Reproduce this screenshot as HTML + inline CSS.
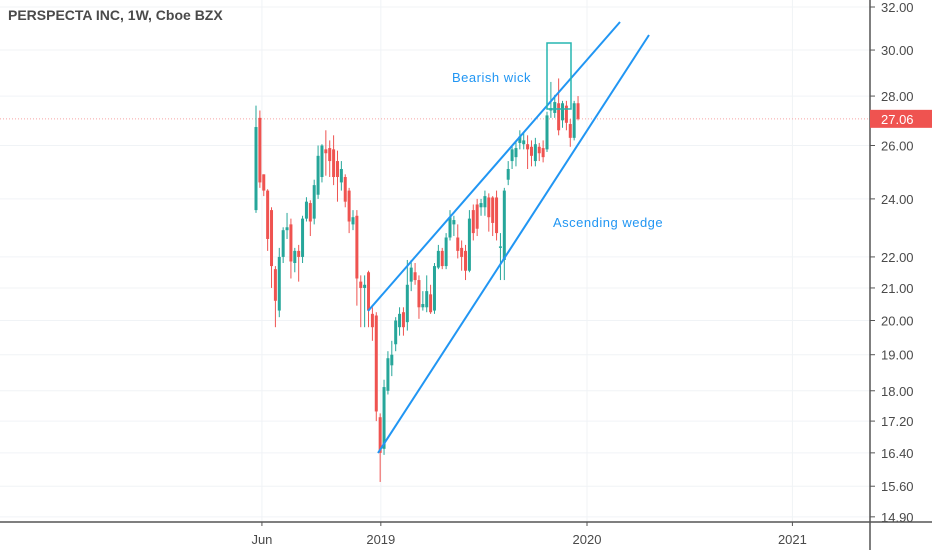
<!DOCTYPE html>
<html><head><meta charset="utf-8">
<style>
html,body{margin:0;padding:0;background:#fff;}
svg{display:block;font-family:"Liberation Sans",sans-serif;}
</style></head>
<body>
<svg id="chart" width="932" height="550" viewBox="0 0 932 550" xmlns="http://www.w3.org/2000/svg">
<rect x="0" y="0" width="932" height="550" fill="#ffffff"/>
<g id="grid"></g>
<g id="candles"></g>
<g id="draw"></g>
<g id="axes"></g>
<text x="8" y="20" font-size="14" font-weight="bold" fill="#4a4a4a">PERSPECTA INC, 1W, Cboe BZX</text>
</svg>
<script>
const opens  = [23.6,27.1,24.9,24.3,23.6,21.6,20.3,22.0,22.9,23.1,21.8,22.2,22.0,23.3,23.85,23.3,24.15,24.8,25.85,25.9,25.85,25.4,24.6,24.8,24.3,23.1,23.4,21.2,21.0,21.5,20.2,20.15,17.3,16.5,18.0,18.7,19.3,19.8,20.25,19.95,21.2,21.5,21.25,20.4,20.4,20.8,20.3,21.65,22.2,21.7,22.65,23.1,22.65,22.3,22.2,21.55,23.6,23.8,23.7,23.7,24.05,24.05,24.05,22.3,21.9,24.7,25.4,25.55,26.1,26.05,26.05,25.95,25.4,25.95,25.9,25.85,27.4,27.3,27.7,27.0,27.6,26.85,26.3,27.7];
const highs  = [27.6,27.4,24.9,24.35,23.7,21.7,22.3,23.0,23.5,23.3,22.3,22.4,23.4,24.06,23.95,24.7,26.0,26.05,26.6,26.2,26.4,25.8,25.4,24.9,24.4,23.6,23.6,21.4,21.4,21.55,20.4,20.25,17.4,18.3,19.1,19.4,20.1,20.4,20.4,21.9,21.9,21.8,21.4,20.9,21.4,21.1,21.8,22.4,22.3,22.8,23.6,23.4,23.1,22.55,22.4,23.6,23.8,24.0,24.0,24.3,24.2,24.1,24.3,22.8,24.4,25.4,26.0,26.2,26.6,26.5,26.4,26.2,26.3,26.1,26.2,27.35,28.6,28.05,28.75,27.8,27.8,27.05,27.8,28.0];
const lows   = [23.5,24.4,24.1,22.2,21.0,19.8,20.1,21.8,22.6,21.3,21.5,21.2,21.8,23.2,22.7,23.1,24.0,24.6,24.85,24.8,24.5,23.9,24.3,23.7,22.8,22.9,20.45,19.8,19.8,19.8,19.4,17.2,15.7,16.35,17.9,18.4,19.1,19.55,19.55,19.7,20.9,21.1,20.05,20.3,20.25,20.2,20.2,21.6,21.6,21.6,22.55,22.7,21.95,21.55,21.25,21.5,22.55,22.7,23.4,23.4,22.85,22.7,22.55,21.25,21.25,24.5,25.1,25.2,25.85,25.85,25.1,25.2,25.2,25.4,25.35,25.75,27.1,27.1,26.4,26.7,26.6,25.95,26.2,27.0];
const closes = [26.73,24.6,24.3,22.6,21.7,20.6,22.0,22.9,23.0,21.85,22.2,22.0,23.3,23.9,23.2,24.5,25.6,26.0,25.7,25.4,24.8,24.8,25.1,23.9,23.2,23.35,21.3,21.0,21.1,20.3,19.8,17.45,16.4,18.1,18.9,19.0,20.0,20.2,19.8,21.1,21.65,21.25,20.4,20.5,20.9,20.25,21.7,22.2,21.7,22.65,23.35,23.25,22.2,22.0,21.55,23.3,22.8,22.95,23.85,24.1,23.35,23.15,22.8,22.35,24.3,25.1,25.85,25.9,26.35,26.2,25.85,25.6,26.05,25.7,25.55,27.2,27.5,27.75,26.6,27.7,26.9,26.3,27.7,27.06];
const yTicks = [32,30,28,26,24,22,21,20,19,18,17.2,16.4,15.6,14.9];
const xTickLabels = ["Jun","2019","2020","2021"];
const xTickWeeks = [1.5,31.6,83.8,135.8];
const lastPrice = 27.06;

const NS="http://www.w3.org/2000/svg";
function mk(tag,attrs,parent){const e=document.createElementNS(NS,tag);for(const k in attrs)e.setAttribute(k,attrs[k]);parent.appendChild(e);return e;}
const PW=870, PB=522;
function y(p){return 7+(Math.log(32)-Math.log(p))*667;}
function x(i){return 256+i*3.88;}
function xw(w){return 256+w*3.95;}

const grid=document.getElementById('grid'), axes=document.getElementById('axes'), cg=document.getElementById('candles'), dr=document.getElementById('draw');
yTicks.forEach(t=>{
  const l=mk('line',{x1:0,x2:PW,y1:y(t),y2:y(t),stroke:'#f0f3f6','stroke-width':1},grid);
  
  
  const tk=mk('line',{x1:PW,x2:PW+5,y1:y(t),y2:y(t),stroke:'#555','stroke-width':1},axes);
  
  
  const tx=mk('text',{x:PW+11,y:y(t)+5,'font-size':13,fill:'#4a4a4a'},axes);
  tx.textContent=t.toFixed(2);
  
  
});
xTickWeeks.forEach((w,i)=>{
  const xx=xw(w);
  const l=mk('line',{x1:xx,x2:xx,y1:0,y2:PB,stroke:'#f0f3f6','stroke-width':1},grid);
  
  
  const tk=mk('line',{x1:xx,x2:xx,y1:PB,y2:PB+4,stroke:'#555','stroke-width':1},axes);
  
  
  const tx=mk('text',{x:xx,y:PB+22,'font-size':13,fill:'#4a4a4a','text-anchor':'middle'},axes);
  tx.textContent=xTickLabels[i];
  
  
});
const ax1=mk('line',{x1:PW,x2:PW,y1:0,y2:550,stroke:'#555','stroke-width':1.5},axes);


const ax2=mk('line',{x1:0,x2:932,y1:PB,y2:PB,stroke:'#555','stroke-width':1.5},axes);



// last price line + label
const pl=mk('line',{x1:0,x2:PW,y1:y(lastPrice),y2:y(lastPrice),stroke:'#f7a5a5','stroke-width':1,'stroke-dasharray':'1,2'},grid);


const pr=mk('rect',{x:PW,y:y(lastPrice)-9,width:62,height:18,fill:'#ef5350'},axes);


const pt=mk('text',{x:PW+11,y:y(lastPrice)+5,'font-size':13,fill:'#fff'},axes);
pt.textContent=lastPrice.toFixed(2);



opens.forEach((o,i)=>{
  const c=closes[i], up=c>=o, col=up?'#26a69a':'#ef5350', cx=x(i);
  const w=mk('line',{x1:cx,x2:cx,y1:y(highs[i]),y2:y(lows[i]),stroke:col,'stroke-width':1},cg);
  
  
  const top=y(Math.max(o,c)), bot=y(Math.min(o,c));
  const b=mk('rect',{x:cx-1.5,y:top,width:3,height:Math.max(1,bot-top),fill:col},cg);
  
  
});

// drawings
const l1=mk('line',{x1:368,y1:311,x2:620,y2:22,stroke:'#2196f3','stroke-width':2},dr);


const l2=mk('line',{x1:378,y1:453,x2:649,y2:35,stroke:'#2196f3','stroke-width':2},dr);


const bx=mk('rect',{x:547,y:43,width:24,height:66,fill:'none',stroke:'#26b5b0','stroke-width':1.5},dr);


const t1=mk('text',{x:452,y:82,'font-size':13,fill:'#2196f3','letter-spacing':'0.5'},dr);
t1.textContent='Bearish wick';


const t2=mk('text',{x:553,y:227,'font-size':13,fill:'#2196f3','letter-spacing':'0.5'},dr);
t2.textContent='Ascending wedge';


</script>
</body></html>
